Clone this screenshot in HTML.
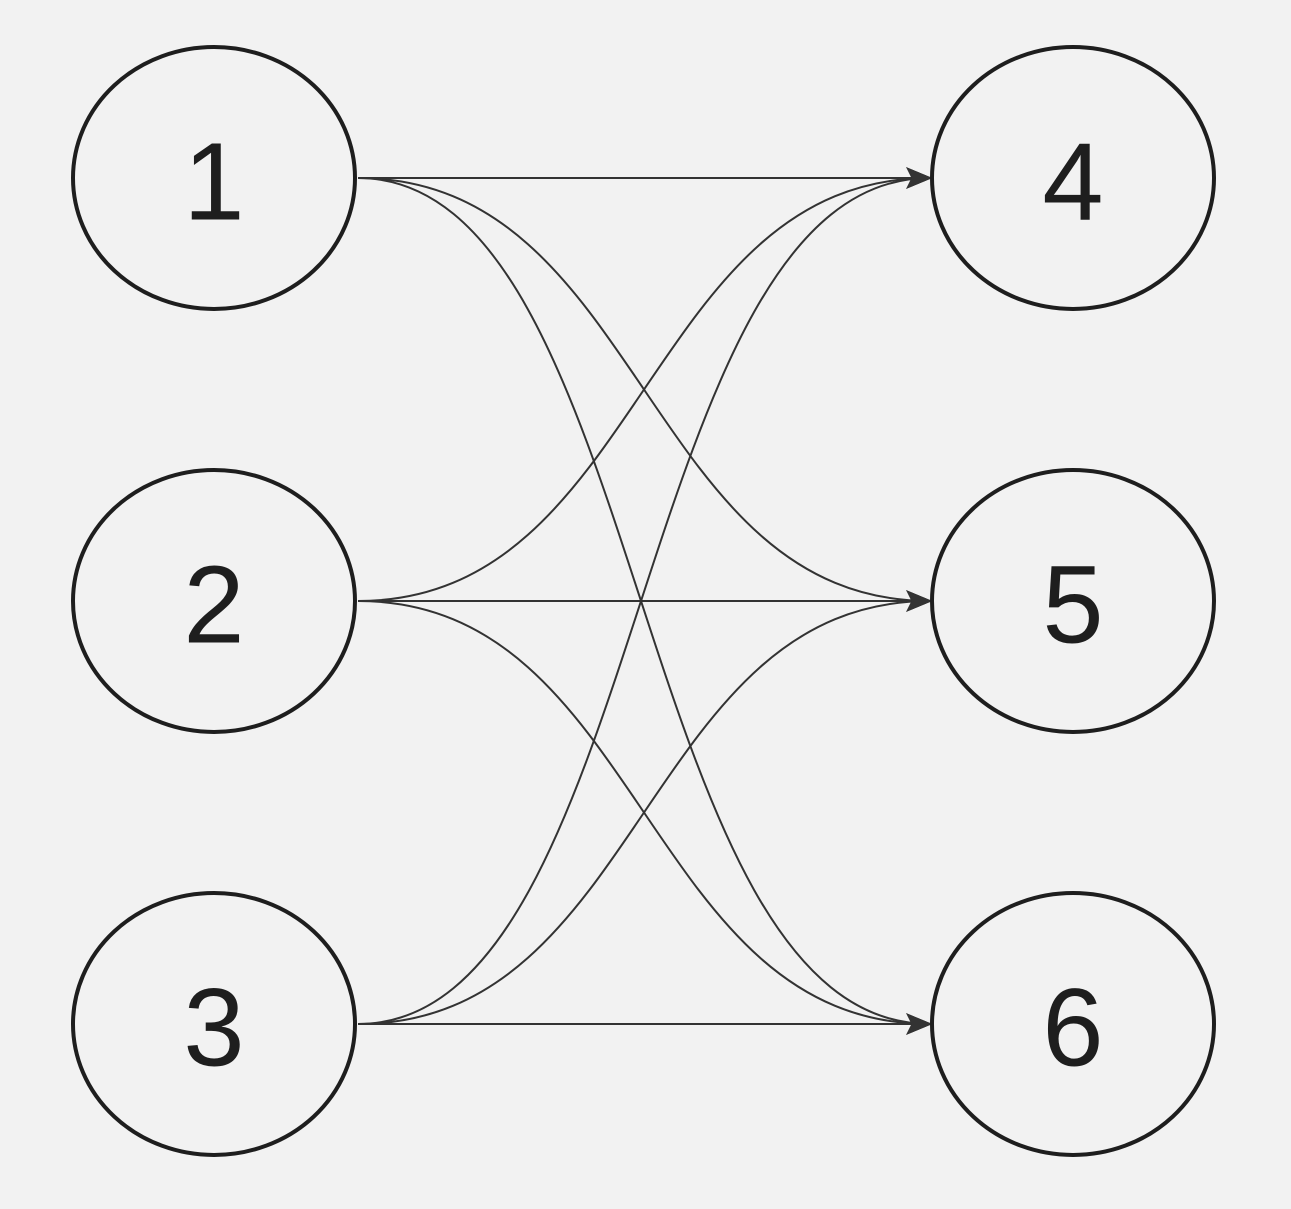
<!DOCTYPE html>
<html><head><meta charset="utf-8"><style>
html,body{margin:0;padding:0;background:#f2f2f2;}
svg{display:block;}
text{font-family:"Liberation Sans",sans-serif;font-size:110px;fill:#1e1e1e;text-anchor:middle;dominant-baseline:central;}
</style></head><body>
<svg width="1291" height="1209" viewBox="0 0 1291 1209">
<defs>
<marker id="b" viewBox="0 0 24 24" markerWidth="26" markerHeight="26" refX="22" refY="12" orient="auto" markerUnits="userSpaceOnUse">
<path d="M0,2 L24,12 L0,22 L5,12 z" fill="#333"/>
</marker>
</defs>
<g fill="none" stroke="#333" stroke-width="2" marker-end="url(#b)">
<path d="M358,178 L930,178"/>
<path d="M358,178 C644,178 644,601 930,601"/>
<path d="M358,178 C650,178 630,1024 930,1024"/>
<path d="M358,601 C644,601 644,178 930,178"/>
<path d="M358,601 L930,601"/>
<path d="M358,601 C644,601 644,1024 930,1024"/>
<path d="M358,1024 C650,1024 630,178 930,178"/>
<path d="M358,1024 C644,1024 644,601 930,601"/>
<path d="M358,1024 L930,1024"/>
</g>
<g fill="#f2f2f2" stroke="#1e1e1e" stroke-width="4">
<ellipse cx="214" cy="178" rx="141" ry="131"/>
<ellipse cx="214" cy="601" rx="141" ry="131"/>
<ellipse cx="214" cy="1024" rx="141" ry="131"/>
<ellipse cx="1073" cy="178" rx="141" ry="131"/>
<ellipse cx="1073" cy="601" rx="141" ry="131"/>
<ellipse cx="1073" cy="1024" rx="141" ry="131"/>
</g>
<text x="214" y="182">1</text>
<text x="214" y="605">2</text>
<text x="214" y="1028">3</text>
<text x="1073" y="182">4</text>
<text x="1073" y="605">5</text>
<text x="1073" y="1028">6</text>
</svg>
</body></html>
